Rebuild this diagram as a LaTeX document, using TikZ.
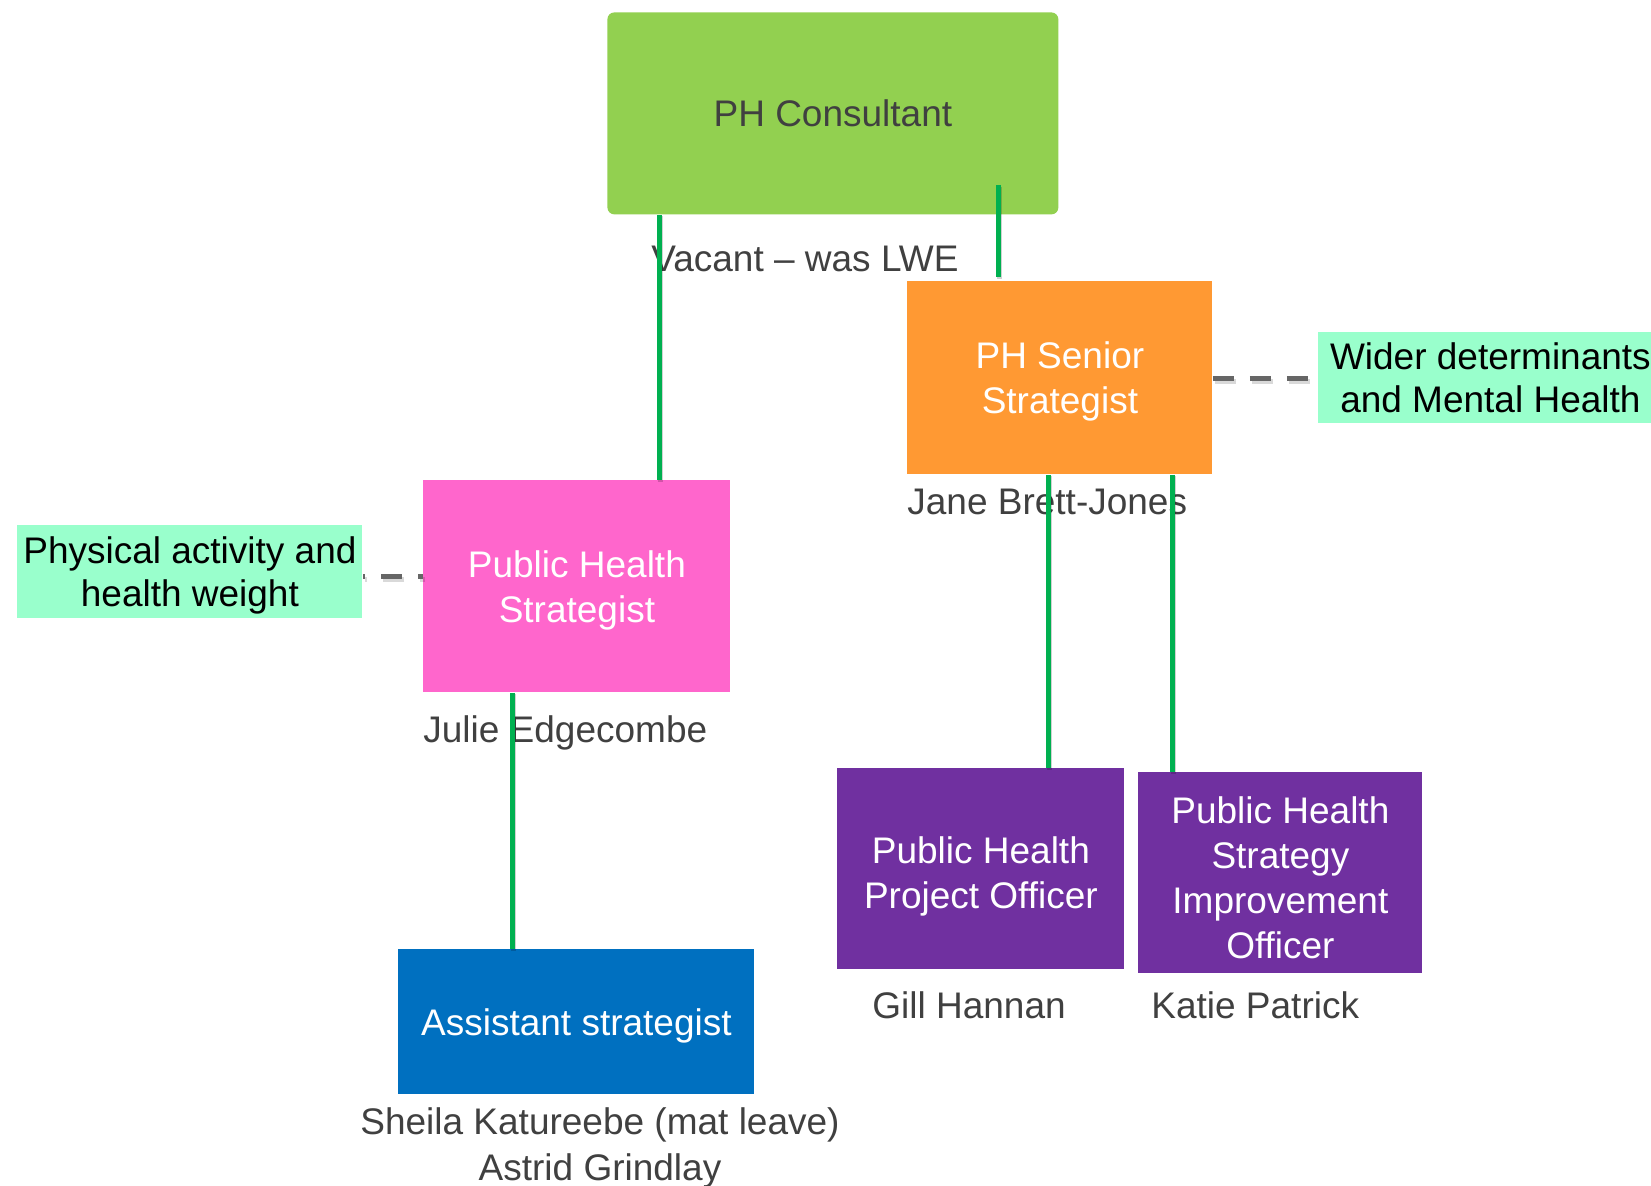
\documentclass[tikz,border=0pt]{standalone}
\usepackage{fontspec}
\setmainfont{Liberation Sans}
\definecolor{consgreen}{HTML}{92D050}
\definecolor{orangebox}{HTML}{FF9933}
\definecolor{pinkbox}{HTML}{FF66CC}
\definecolor{bluebox}{HTML}{0070C0}
\definecolor{purplebox}{HTML}{7030A0}
\definecolor{mintfill}{HTML}{99FFCC}
\definecolor{linegreen}{HTML}{00B050}
\definecolor{dashgray}{HTML}{666666}
\definecolor{textgray}{HTML}{404040}
\newcommand{\orgfont}{\fontsize{18.5pt}{22.5pt}\selectfont}
\newcommand{\orgmintfont}{\fontsize{18.5pt}{21.5pt}\selectfont}
\tikzset{
  orgbox/.style={font=\orgfont,anchor=north west,inner sep=0pt,align=center,text=white,text depth=0pt},
  orgmint/.style={font=\orgmintfont,anchor=north west,inner sep=0pt,align=center,fill=mintfill,text=black,text depth=0pt},
  orgname/.style={font=\orgfont,text=textgray,inner sep=0pt},
  orgconn/.style={draw=linegreen,line width=2.5pt,
    preaction={draw=black,opacity=0.18,line width=2.5pt,transform canvas={shift={(0.8pt,-0.8pt)}}}},
  orgdash/.style={draw=dashgray,line width=2.5pt,dash pattern=on 10.5pt off 8pt,
    preaction={draw=black,opacity=0.15,line width=2.5pt,dash pattern=on 10.5pt off 8pt,transform canvas={shift={(1pt,-1.2pt)}}}}
}
\begin{document}
\begin{tikzpicture}[x=0.5pt,y=-0.5pt]
\clip (0,0) rectangle (1651,1186);
\fill[white] (0,0) rectangle (1651,1186);

% boxes
\node[orgbox,fill=consgreen,text=textgray,rounded corners=3.5pt,minimum width=225.5pt,minimum height=101pt] (cons) at (607,12) {PH Consultant};
\node[orgbox,fill=orangebox,minimum width=152.5pt,minimum height=96.5pt] (senior) at (907,281) {PH Senior\\Strategist};
\node[orgbox,fill=pinkbox,minimum width=153.5pt,minimum height=106pt] (strat) at (423,480) {Public Health\\Strategist};
\node[orgbox,fill=bluebox,minimum width=178pt,minimum height=72.5pt,text height=13.2pt,text depth=-1.2pt] (asst) at (398,949) {Assistant strategist};
\node[orgbox,fill=purplebox,minimum width=143.5pt,minimum height=100.5pt] (proj) at (837,768) {};
\node[orgbox,fill=purplebox,minimum width=142pt,minimum height=100.5pt] (impr) at (1138,772) {};
\node[font=\orgfont,text=white,align=center,inner sep=0pt,text depth=0pt] (projtxt) at ([yshift=-2pt]proj.center) {Public Health\\Project Officer};
\node[font=\orgfont,text=white,align=center,inner sep=0pt,text depth=0pt] (imprtxt) at ([yshift=-2.2pt]impr.center) {Public Health\\Strategy\\Improvement\\Officer};
\node[orgmint,minimum width=172.5pt,minimum height=46.5pt] (phys) at (17,525) {Physical activity and\\health weight};
\node[orgmint,minimum width=172pt,minimum height=45.5pt] (wider) at (1318,332) {Wider determinants\\and Mental Health};

% name labels
\node[orgname,anchor=base west] (vacant) at (651,272) {Vacant -- was LWE};
\node[orgname,anchor=base west] (jane) at (907,515) {Jane Brett-Jones};
\node[orgname,anchor=base west] (julie) at (423,743) {Julie Edgecombe};
\node[orgname,anchor=base west] (gill) at (872,1019) {Gill Hannan};
\node[orgname,anchor=base west] (katie) at (1151,1019) {Katie Patrick};
\node[orgname,anchor=base] (sheila) at (600,1135) {Sheila Katureebe (mat leave)};
\node[orgname,anchor=base] (astrid) at (600,1181) {Astrid Grindlay};

% connector columns
\coordinate (c1) at (659,0);
\coordinate (c2) at (998,185);
\coordinate (c3) at (1048,0);
\coordinate (c4) at (1172,0);
\coordinate (c5) at (512,0);
\coordinate (c6) at (0,577);

% connectors
\draw[orgconn] (cons.south -| c1) -- (strat.north -| c1);
\draw[orgconn] (c2) -- ([yshift=2pt]senior.north -| c2);
\draw[orgconn] (senior.south -| c3) -- (proj.north -| c3);
\draw[orgconn] (senior.south -| c4) -- (impr.north -| c4);
\draw[orgconn] (strat.south -| c5) -- (asst.north -| c5);
\draw[orgdash] ([yshift=-0.5pt]senior.east) -- ([yshift=-0.5pt]wider.west |- senior.east);
\draw[orgdash,dash phase=8pt] (strat.west |- c6) -- (phys.east |- c6);
\end{tikzpicture}
\end{document}
